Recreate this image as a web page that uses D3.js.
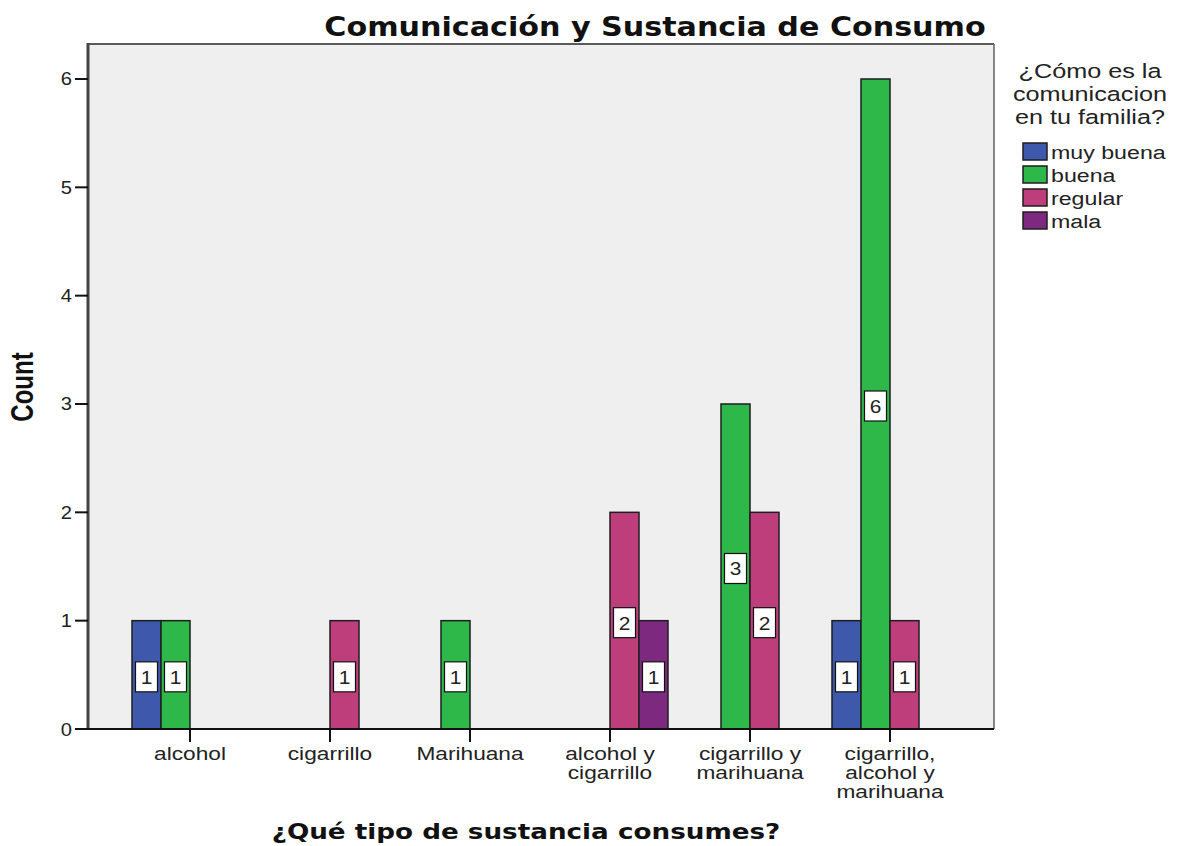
<!DOCTYPE html>
<html><head><meta charset="utf-8">
<script src="https://cdn.jsdelivr.net/npm/d3@7"></script>
<style>body{margin:0;background:#fff}svg{display:block}</style>
</head><body>
<svg id="c" width="1191" height="846"></svg>
<script>
// ---- data ----
const categories = ["alcohol","cigarrillo","Marihuana","alcohol y cigarrillo","cigarrillo y marihuana","cigarrillo, alcohol y marihuana"];
const categoryLines = [["alcohol"],["cigarrillo"],["Marihuana"],["alcohol y","cigarrillo"],["cigarrillo y","marihuana"],["cigarrillo,","alcohol y","marihuana"]];
const seriesNames = ["muy buena","buena","regular","mala"];
const muyBuena = [1,0,0,0,0,1];
const buena    = [1,0,1,0,3,6];
const regular  = [0,1,0,2,2,1];
const mala     = [0,0,0,1,0,0];
const seriesValues = [muyBuena, buena, regular, mala];
const seriesColors = ["#3E58AB","#2EB84A","#BE3E7C","#7C297F"];
const yTicks = [0,1,2,3,4,5,6];
const titleText = "Comunicación y Sustancia de Consumo";
const xTitle = "¿Qué tipo de sustancia consumes?";
const yTitle = "Count";
const legendTitle = ["¿Cómo es la","comunicacion","en tu familia?"];

// ---- layout ----
const svg = d3.select("#c");
const L = 88, T = 44, R = 994, B = 729;
const SX = 1.2; // horizontal glyph stretch of the reference
const y = d3.scaleLinear().domain([0, 6.323]).range([B, T]);
const x0 = d3.scaleBand().domain(categories).range([L + 32, R - 34]).paddingInner(0).paddingOuter(0);
const groupW = 116;
const x1 = d3.scaleBand().domain(seriesNames).range([0, groupW]);

function stext(g, x, yy, txt, opts) {
  const t = g.append("text")
    .attr("transform", `translate(${x},${yy}) scale(${opts.sx || SX},1)`)
    .attr("text-anchor", opts.anchor || "middle")
    .attr("font-family", opts.family || "'Liberation Sans', Arial, sans-serif")
    .attr("font-size", opts.size)
    .attr("font-weight", opts.weight || "normal")
    .attr("fill", opts.fill || "#222")
    .text(txt);
  if (opts.dy) t.attr("dy", opts.dy);
  return t;
}

// plot background
svg.append("rect").attr("x", L).attr("y", T).attr("width", R - L).attr("height", B - T)
  .attr("fill", "#EFEFEF").attr("stroke", "none");
svg.append("line").attr("x1", L).attr("x2", R).attr("y1", T).attr("y2", T).attr("stroke", "#5a5a5a").attr("stroke-width", 2);
svg.append("line").attr("x1", R).attr("x2", R).attr("y1", T).attr("y2", B).attr("stroke", "#6a6a6a").attr("stroke-width", 1.6);
svg.append("line").attr("x1", L).attr("x2", L).attr("y1", T - 1).attr("y2", B).attr("stroke", "#444").attr("stroke-width", 3);

// bars
const rows = [];
seriesNames.forEach((s, si) => categories.forEach((c, ci) => {
  if (seriesValues[si][ci] > 0) rows.push({s, si, c, v: seriesValues[si][ci]});
}));
const off = (x0.bandwidth() - groupW) / 2;
const bars = svg.append("g");
bars.selectAll("rect").data(rows).join("rect")
  .attr("x", d => x0(d.c) + off + x1(d.s))
  .attr("y", d => y(d.v))
  .attr("width", x1.bandwidth())
  .attr("height", d => y(0) - y(d.v))
  .attr("fill", d => seriesColors[d.si])
  .attr("stroke", "#1e1e1e").attr("stroke-width", 1.5);

// value labels
const lab = svg.append("g");
rows.forEach(d => {
  const cx = x0(d.c) + off + x1(d.s) + x1.bandwidth() / 2;
  const cy = y(d.v / 2) + 2;
  lab.append("rect").attr("x", cx - 11).attr("y", cy - 15).attr("width", 22).attr("height", 30)
    .attr("fill", "#fff").attr("stroke", "#111").attr("stroke-width", 1.2);
  stext(lab, cx, cy + 7, d.v, {size: 19, sx: 1.1});
});

// y axis
const yAxis = svg.append("g");
yTicks.forEach(t => {
  yAxis.append("line").attr("x1", L - 13).attr("x2", L).attr("y1", y(t)).attr("y2", y(t))
    .attr("stroke", "#111").attr("stroke-width", 2);
  stext(yAxis, 72, y(t) + 6.5, t, {size: 18, anchor: "end", sx: 1.12});
});

// x axis
const xAxis = svg.append("g");
xAxis.append("line").attr("x1", L).attr("x2", R).attr("y1", B).attr("y2", B).attr("stroke", "#111").attr("stroke-width", 2);
categories.forEach((c, i) => {
  const cx = x0(c) + x0.bandwidth() / 2;
  xAxis.append("line").attr("x1", cx).attr("x2", cx).attr("y1", B).attr("y2", B + 13)
    .attr("stroke", "#111").attr("stroke-width", 2);
  categoryLines[i].forEach((ln, j) => stext(xAxis, cx, 760 + j * 19, ln, {size: 18.3, sx: 1.24}));
});

// titles
stext(svg, 655, 36, titleText, {size: 26, weight: "bold", family: "'DejaVu Sans', Verdana, sans-serif", sx: 1.16, fill: "#111"});
stext(svg, 526, 839, xTitle, {size: 21.5, weight: "bold", family: "'DejaVu Sans', Verdana, sans-serif", sx: 1.22, fill: "#111"});
svg.append("text")
  .attr("transform", "translate(33,387) rotate(-90) scale(1,1.3)")
  .attr("text-anchor", "middle")
  .attr("font-family", "'Liberation Sans', Arial, sans-serif")
  .attr("font-weight", "bold").attr("font-size", 24).attr("fill", "#111")
  .text(yTitle);

// legend
const lg = svg.append("g");
legendTitle.forEach((ln, i) => stext(lg, 1090, 78 + i * 23, ln, {size: 20.5, sx: 1.23}));
seriesNames.forEach((s, i) => {
  const ty = 143 + i * 23;
  lg.append("rect").attr("x", 1023).attr("y", ty).attr("width", 24).attr("height", 17)
    .attr("fill", seriesColors[i]).attr("stroke", "#1e1e1e").attr("stroke-width", 1.5);
  stext(lg, 1051, ty + 16, s, {size: 19, anchor: "start", sx: 1.22});
});
</script>
</body></html>
